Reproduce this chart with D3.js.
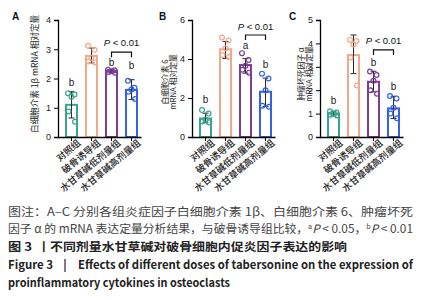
<!DOCTYPE html>
<html>
<head>
<meta charset="utf-8">
<script src="https://cdn.jsdelivr.net/npm/d3@7"></script>
<style>
  body { margin: 0; background: #fff; }
  svg { display: block; }
  .cjk { font-family: "Noto Sans CJK SC", "Noto Sans", sans-serif; }
  .num { font-family: "Liberation Sans", Arial, sans-serif; }
</style>
</head>
<body>
<svg id="chart" width="422" height="300"></svg>
<script>
const groups = [ "对照组", "破骨诱导组", "水甘草碱低剂量组", "水甘草碱高剂量组" ];
const colors = [ "#3aa58c", "#f2a889", "#7d3d99", "#3461e8" ];

// panel A : IL-1beta
const il1bTicks = [ 0, 1, 2, 3, 4 ];
const il1bMeans = [ 1.1, 2.77, 2.26, 1.61 ];
const il1bErr = [ [0.65, 1.55], [2.53, 3.04], [2.2, 2.3], [1.28, 1.96] ];
const il1bDots = [ [1.5, 1.45, 1.38, 0.87, 0.52], [3.12, 2.98, 2.7, 2.58, 2.55],
                   [2.3, 2.28, 2.25, 2.22, 2.2], [1.92, 1.68, 1.62, 1.55, 1.3] ];
const il1bLetters = [ "b", "", "b", "b" ];
const il1bLetterAt = [ 1.88, 0, 2.56, 2.46 ];

// panel B : IL-6
const il6Ticks = [ 0, 2, 4, 6 ];
const il6Means = [ 0.95, 4.5, 3.69, 2.32 ];
const il6Err = [ [0.73, 1.22], [4.03, 4.9], [3.27, 4.02], [1.57, 3.02] ];
const il6Dots = [ [1.38, 1.2, 0.9, 0.8, 0.75], [5.1, 4.95, 4.55, 4.2, 4.1],
                  [4.3, 3.95, 3.65, 3.45, 3.3], [3.25, 3.0, 2.4, 1.6, 1.55] ];
const il6Letters = [ "b", "", "a", "b" ];
const il6LetterAt = [ 1.9, 0, 4.7, 3.7 ];

// panel C : TNF-alpha
const tnfTicks = [ 0, 1, 2, 3, 4, 5 ];
const tnfMeans = [ 1.0, 3.5, 2.36, 1.22 ];
const tnfErr = [ [0.9, 1.1], [2.71, 4.36], [1.93, 2.81], [0.79, 1.74] ];
const tnfDots = [ [1.1, 1.05, 1.0, 0.95, 0.92], [4.15, 4.1, 3.95, 3.4, 2.2],
                  [2.8, 2.65, 2.4, 2.0, 1.85], [1.75, 1.65, 1.25, 1.0, 0.8] ];
const tnfLetters = [ "b", "", "b", "b" ];
const tnfLetterAt = [ 1.58, 0, 3.2, 2.14 ];

const dotOffsets = [ -3.5, 3, 0, -3, 3.5 ];

var svg = d3.select( "#chart" );

function drawPanel( o ) {
    var g = svg.append( "g" );
    var yMax = o.ticks[ o.ticks.length - 1 ];
    var scY = d3.scaleLinear().domain( [0, yMax] ).range( [137, 20] );
    var scX = d3.scaleBand().domain( groups ).range( [o.x0 + 3.5, o.x0 + 83.5] )
                .paddingInner( 0.35 ).paddingOuter( 0.175 );
    var bw = scX.bandwidth();
    var cx = i => scX( groups[i] ) + bw / 2;

    // bars
    g.selectAll( "rect.bar" ).data( o.means ).enter().append( "rect" )
        .attr( "x", (d, i) => scX( groups[i] ) + 1 )
        .attr( "width", bw - 2 )
        .attr( "y", d => scY( d ) )
        .attr( "height", d => scY( 0 ) - scY( d ) )
        .attr( "fill", "#fff" )
        .attr( "stroke", (d, i) => colors[i] )
        .attr( "stroke-width", 2 );

    // error bars
    var eb = g.selectAll( "g.err" ).data( o.err ).enter().append( "g" )
        .attr( "stroke", "#2a2a2a" ).attr( "stroke-width", 1 );
    eb.append( "line" )
        .attr( "x1", (d, i) => cx( i ) ).attr( "x2", (d, i) => cx( i ) )
        .attr( "y1", d => scY( d[0] ) ).attr( "y2", d => scY( d[1] ) );
    eb.append( "line" )
        .attr( "x1", (d, i) => cx( i ) - 3 ).attr( "x2", (d, i) => cx( i ) + 3 )
        .attr( "y1", d => scY( d[1] ) ).attr( "y2", d => scY( d[1] ) );
    eb.append( "line" )
        .attr( "x1", (d, i) => cx( i ) - 3 ).attr( "x2", (d, i) => cx( i ) + 3 )
        .attr( "y1", d => scY( d[0] ) ).attr( "y2", d => scY( d[0] ) );

    // dots
    o.dots.forEach( function( vals, i ) {
        g.selectAll( null ).data( vals ).enter().append( "circle" )
            .attr( "cx", (d, j) => cx( i ) + dotOffsets[j] )
            .attr( "cy", d => scY( d ) )
            .attr( "r", 2.4 )
            .attr( "fill", "none" )
            .attr( "stroke", colors[i] )
            .attr( "stroke-width", 1.2 );
    } );

    // axes
    var ya = g.append( "g" ).attr( "transform", `translate(${o.x0},0)` )
        .call( d3.axisLeft( scY ).tickValues( o.ticks ).tickSize( 4 ).tickFormat( d3.format( "d" ) ) );
    ya.selectAll( "text" ).attr( "class", "num" ).attr( "font-size", 9 ).attr( "fill", "#222" );
    ya.select( ".domain" ).attr( "stroke-width", 1.3 );

    var xa = g.append( "g" ).attr( "transform", `translate(0,${scY( 0 )})` )
        .call( d3.axisBottom( scX ).tickSize( 4 ).tickSizeOuter( 0 ) );
    xa.select( ".domain" ).attr( "d", `M${o.x0},0.5H${o.x0 + 83.5}` ).attr( "stroke-width", 1.3 );
    xa.selectAll( "text" )
        .attr( "class", "cjk" )
        .attr( "font-size", 9.4 )
        .attr( "font-weight", 500 )
        .attr( "fill", "#222" )
        .attr( "text-anchor", "end" )
        .attr( "x", 3 ).attr( "y", 6 ).attr( "dy", "0.6em" )
        .attr( "transform", "rotate(-40)" );

    // significance letters
    g.selectAll( "text.letter" ).data( o.letters ).enter().append( "text" )
        .attr( "class", "num" )
        .attr( "x", (d, i) => cx( i ) )
        .attr( "y", (d, i) => scY( o.letterAt[i] ) )
        .attr( "dy", "0.35em" )
        .attr( "text-anchor", "middle" )
        .attr( "font-size", 10 )
        .attr( "fill", "#222" )
        .text( d => d );

    // bracket between low and high dose
    var bx1 = cx( 2 ), bx2 = cx( 3 ), by = scY( o.bracketAt );
    g.append( "path" )
        .attr( "d", `M${bx1},${by + 5}V${by}H${bx2}V${by + 5}` )
        .attr( "fill", "none" ).attr( "stroke", "#111" ).attr( "stroke-width", 1.2 );
    var pt = g.append( "text" ).attr( "class", "num" )
        .attr( "x", (bx1 + bx2) / 2 ).attr( "y", scY( o.pAt ) ).attr( "dy", "0.35em" )
        .attr( "text-anchor", "middle" ).attr( "font-size", 9.5 ).attr( "fill", "#111" );
    pt.append( "tspan" ).attr( "font-style", "italic" ).text( "P" );
    pt.append( "tspan" ).text( " < 0.01" );

    // y title
    var tt = g.append( "text" ).attr( "class", "cjk" )
        .attr( "transform", `translate(${o.titleX},${o.titleY}) rotate(-90)` )
        .attr( "text-anchor", "middle" ).attr( "font-size", o.titleSize ).attr( "fill", "#222" );
    o.title.forEach( function( line, k ) {
        tt.append( "tspan" ).attr( "x", 0 ).attr( "y", k * 8 ).text( line );
    } );

    // panel letter
    g.append( "text" ).attr( "class", "num" )
        .attr( "x", o.letterX ).attr( "y", 20 )
        .attr( "font-size", 10 ).attr( "font-weight", "bold" ).attr( "fill", "#111" )
        .text( o.label );
}

drawPanel( { label: "A", letterX: 12, x0: 58, ticks: il1bTicks, means: il1bMeans, err: il1bErr,
             dots: il1bDots, letters: il1bLetters, letterAt: il1bLetterAt, bracketAt: 2.9, pAt: 3.22,
             title: [ "白细胞介素 1β mRNA 相对定量" ], titleSize: 8.6, titleX: 38, titleY: 74 } );
drawPanel( { label: "B", letterX: 159, x0: 192, ticks: il6Ticks, means: il6Means, err: il6Err,
             dots: il6Dots, letters: il6Letters, letterAt: il6LetterAt, bracketAt: 5.23, pAt: 5.64,
             title: [ "白细胞介素 6", "mRNA 相对定量" ], titleSize: 7.8, titleX: 168, titleY: 82 } );
drawPanel( { label: "C", letterX: 289, x0: 320, ticks: tnfTicks, means: tnfMeans, err: tnfErr,
             dots: tnfDots, letters: tnfLetters, letterAt: tnfLetterAt, bracketAt: 3.72, pAt: 4.1,
             title: [ "肿瘤坏死因子 α", "mRNA 相对定量" ], titleSize: 7.8, titleX: 304, titleY: 74 } );

// caption
var cap = svg.append( "g" ).attr( "class", "cjk" ).attr( "font-size", 11.5 );
cap.append( "text" ).attr( "x", 8 ).attr( "y", 216 ).attr( "fill", "#444" )
    .attr( "textLength", 405 ).attr( "lengthAdjust", "spacingAndGlyphs" )
    .text( "图注：A–C 分别各组炎症因子白细胞介素 1β、白细胞介素 6、肿瘤坏死" );
var l2 = cap.append( "text" ).attr( "x", 8 ).attr( "y", 233 ).attr( "fill", "#444" )
    .attr( "textLength", 405 ).attr( "lengthAdjust", "spacingAndGlyphs" );
l2.append( "tspan" ).text( "因子 α 的 mRNA 表达定量分析结果，与破骨诱导组比较，" );
l2.append( "tspan" ).attr( "font-size", 7 ).attr( "dy", -4 ).text( "a" );
l2.append( "tspan" ).attr( "font-style", "italic" ).attr( "dy", 4 ).text( "P" );
l2.append( "tspan" ).text( " < 0.05，" );
l2.append( "tspan" ).attr( "font-size", 7 ).attr( "dy", -4 ).text( "b" );
l2.append( "tspan" ).attr( "font-style", "italic" ).attr( "dy", 4 ).text( "P" );
l2.append( "tspan" ).text( " < 0.01" );

// figure title, pieces placed as in the source
cap.append( "text" ).attr( "x", 8 ).attr( "y", 251 ).attr( "fill", "#222" ).attr( "font-weight", "bold" )
    .attr( "textLength", 24 ).attr( "lengthAdjust", "spacingAndGlyphs" ).text( "图 3" );
cap.append( "text" ).attr( "x", 38 ).attr( "y", 251 ).attr( "fill", "#222" ).attr( "font-weight", "bold" )
    .text( "丨" );
cap.append( "text" ).attr( "x", 50 ).attr( "y", 251 ).attr( "fill", "#222" ).attr( "font-weight", "bold" )
    .attr( "textLength", 297 ).attr( "lengthAdjust", "spacingAndGlyphs" )
    .text( "不同剂量水甘草碱对破骨细胞内促炎因子表达的影响" );
cap.append( "text" ).attr( "x", 8 ).attr( "y", 269 ).attr( "fill", "#222" ).attr( "font-weight", "bold" )
    .attr( "textLength", 45 ).attr( "lengthAdjust", "spacingAndGlyphs" ).text( "Figure 3" );
cap.append( "text" ).attr( "x", 65 ).attr( "y", 269 ).attr( "fill", "#222" ).attr( "font-weight", "bold" )
    .attr( "text-anchor", "middle" ).text( "|" );
cap.append( "text" ).attr( "x", 78 ).attr( "y", 269 ).attr( "fill", "#222" ).attr( "font-weight", "bold" )
    .attr( "textLength", 335 ).attr( "lengthAdjust", "spacingAndGlyphs" )
    .text( "Effects of different doses of tabersonine on the expression of" );
cap.append( "text" ).attr( "x", 8 ).attr( "y", 287 ).attr( "fill", "#222" ).attr( "font-weight", "bold" )
    .attr( "textLength", 222 ).attr( "lengthAdjust", "spacingAndGlyphs" )
    .text( "proinflammatory cytokines in osteoclasts" );
</script>
</body>
</html>
